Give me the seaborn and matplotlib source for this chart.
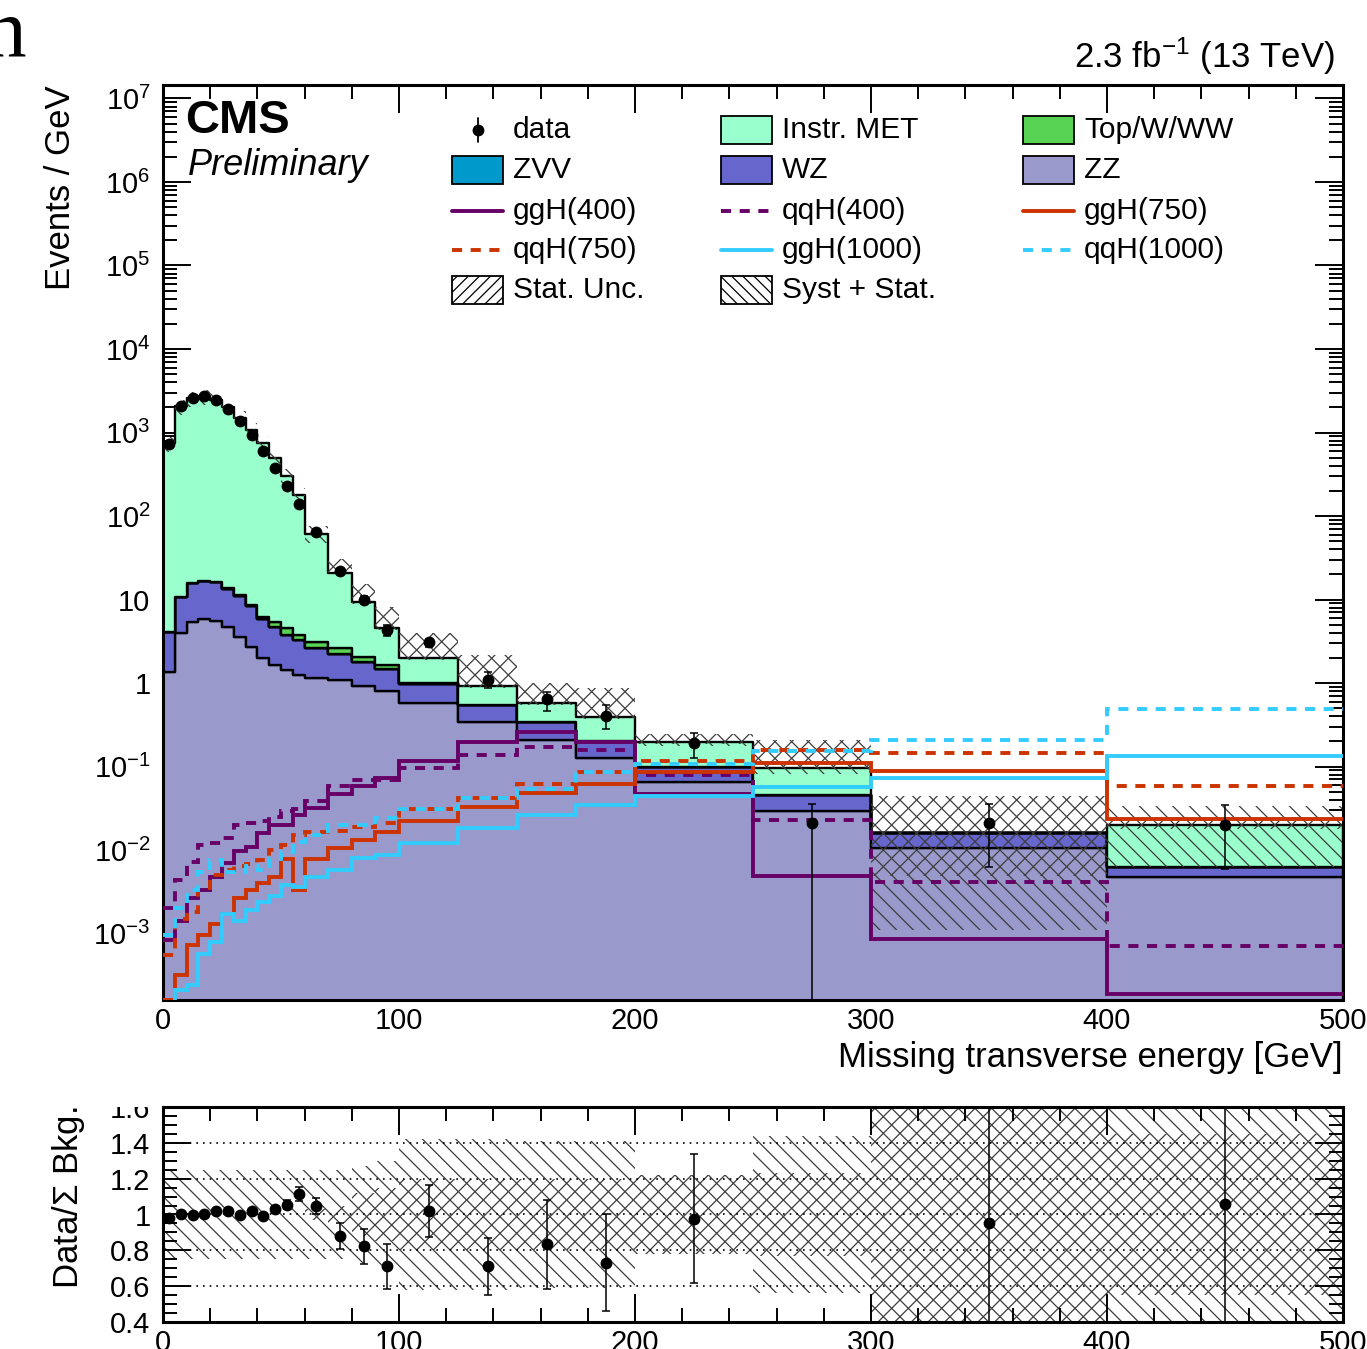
import matplotlib
matplotlib.use("Agg")
import matplotlib.pyplot as plt
import matplotlib.ticker as mticker
from matplotlib.patches import Rectangle
from matplotlib.lines import Line2D
from matplotlib.transforms import Bbox, TransformedBbox
import numpy as np
import pandas as pd
import seaborn as sns

# binning (GeV)
bin_edges = [0, 5, 10, 15, 20, 25, 30, 35, 40, 45, 50, 55, 60, 70, 80, 90,
             100, 125, 150, 175, 200, 250, 300, 400, 500]

# backgrounds, events / GeV
zz = [1.36, 4.0, 5.4, 5.9, 5.5, 4.7, 3.6, 2.7, 2.0, 1.63, 1.42, 1.24, 1.16,
      1.08, 0.92, 0.80, 0.57, 0.34, 0.21, 0.125, 0.065, 0.029, 0.0107, 0.0047]
wz = [2.7, 6.8, 10.2, 10.7, 10.5, 8.6, 7.5, 5.7, 3.9, 3.07, 2.38, 2.06, 1.49,
      1.17, 0.88, 0.67, 0.41, 0.21, 0.13, 0.075, 0.033, 0.016, 0.0052, 0.0016]
zvv = [0, 0, 0, 0, 0, 0, 0, 0, 0, 0, 0, 0, 0,
       0, 0, 0, 0, 0, 0, 0, 0, 0, 0, 0]
top_w_ww = [0, 0, 0, 0.1, 0.2, 0.4, 0.3, 0.3, 0.35, 0.75, 0.7, 0.5, 0.45,
            0.35, 0.27, 0.17, 0.02, 0, 0, 0, 0, 0, 0, 0]
instr_met = [736, 2039, 2544, 2683, 2464, 1986, 1489, 1071, 744, 494, 296, 176, 57,
             18.4, 7.3, 2.86, 1.0, 0.38, 0.23, 0.19, 0.096, 0.050, 0, 0.0137]

# relative uncertainty band on the background sum (main panel)
syst_up = [0.2, 0.2, 0.2, 0.2, 0.2, 0.2, 0.2, 0.2, 0.2, 0.2, 0.2, 0.2, 0.25,
           0.45, 0.65, 0.8, 1.0, 1.3, 0.75, 1.25, 0.25, 1.17, 1.77, 0.7]
syst_dn = [0.2, 0.2, 0.2, 0.2, 0.2, 0.2, 0.2, 0.2, 0.2, 0.2, 0.2, 0.2, 0.2,
           0.05, 0.05, 0.05, 0.05, 0.05, 0.05, 0.05, 0.1, 0.15, 0.93, 0.69]
stat_up = [0.03, 0.03, 0.03, 0.03, 0.03, 0.03, 0.03, 0.03, 0.03, 0.03, 0.03, 0.03, 0.05,
           0.45, 0.65, 0.8, 1.0, 1.3, 0.75, 1.25, 0.25, 1.17, 1.77, 0.1]
stat_dn = [0.03, 0.03, 0.03, 0.03, 0.03, 0.03, 0.03, 0.03, 0.03, 0.03, 0.03, 0.03, 0.05,
           0.03, 0.03, 0.03, 0.03, 0.03, 0.03, 0.03, 0.05, 0.0, 0.69, 0.1]

# signals, events / GeV
ggh400 = [0.00083, 0.0014, 0.0027, 0.0033, 0.0048, 0.0069, 0.0097, 0.011, 0.016, 0.020,
          0.020, 0.026, 0.032, 0.047, 0.059, 0.073, 0.116, 0.194, 0.26, 0.194,
          0.0475, 0.0049, 0.00085, 0.00019]
qqh400 = [0.0020, 0.0044, 0.0071, 0.0115, 0.0123, 0.0138, 0.020, 0.021, 0.022, 0.025,
          0.029, 0.031, 0.039, 0.058, 0.069, 0.069, 0.095, 0.139, 0.172, 0.158,
          0.080, 0.023, 0.0041, 0.00071]
ggh750 = [0.00016, 0.00032, 0.00072, 0.00095, 0.0013, 0.0017, 0.0027, 0.0033, 0.0040, 0.0048,
          0.0079, 0.0033, 0.0079, 0.0107, 0.0132, 0.0166, 0.022, 0.033, 0.048, 0.061,
          0.087, 0.109, 0.0895, 0.0234]
qqh750 = [0.00055, 0.0015, 0.0018, 0.0035, 0.0050, 0.0057, 0.0065, 0.0068, 0.0076, 0.0100,
          0.0115, 0.0150, 0.0166, 0.0170, 0.019, 0.021, 0.031, 0.042, 0.061, 0.085,
          0.116, 0.158, 0.146, 0.058]
ggh1000 = [0.00015, 0.00021, 0.00024, 0.00057, 0.0008, 0.0017, 0.0014, 0.0019, 0.0024, 0.0028,
           0.0038, 0.0036, 0.0047, 0.0058, 0.0081, 0.0087, 0.0123, 0.0185, 0.026, 0.035,
           0.044, 0.057, 0.072, 0.135]
qqh1000 = [0.00095, 0.0020, 0.0033, 0.0055, 0.0076, 0.0054, 0.0055, 0.0065, 0.0057, 0.0079,
           0.0096, 0.0126, 0.015, 0.020, 0.020, 0.024, 0.031, 0.042, 0.054, 0.085,
           0.107, 0.155, 0.21, 0.49]

# data, events / GeV
data_y = [720, 2050, 2600, 2700, 2430, 1900, 1370, 940, 600, 380, 230, 141, 65,
          22, 10, 4.35, 3.06, 1.1, 0.64, 0.40, 0.19, 0.021, 0.021, 0.020]
data_err_hi = [12, 20, 23, 23, 22, 19, 17, 14, 11, 9, 7, 5, 2.5,
               1.5, 1.0, 0.66, 0.35, 0.24, 0.15, 0.15, 0.065, 0.015, 0.015, 0.015]
data_err_lo = [12, 20, 23, 23, 22, 19, 17, 14, 11, 9, 7, 5, 2.5,
               1.5, 1.0, 0.66, 0.35, 0.24, 0.18, 0.115, 0.065, 0.0209, 0.0147, 0.014]

# ratio panel
ratio = [0.978, 1.005, 0.996, 1.0, 1.017, 1.02, 0.996, 1.02, 0.99, 1.03, 1.054, 1.115, 1.047,
         0.88, 0.823, 0.71, 1.02, 0.71, 0.833, 0.73, 0.976, np.nan, 0.95, 1.06]
ratio_err = [0.015, 0.01, 0.01, 0.01, 0.01, 0.01, 0.012, 0.013, 0.015, 0.02, 0.025, 0.038, 0.045,
             0.07, 0.097, 0.125, 0.147, 0.16, 0.25, 0.27, 0.36, np.nan, 1.0, 1.0]
ratio_syst = [0.25, 0.25, 0.25, 0.25, 0.25, 0.25, 0.25, 0.25, 0.25, 0.25, 0.25, 0.25, 0.25,
              0.25, 0.27, 0.30, 0.42, 0.42, 0.41, 0.41, 0.22, 0.44, 1.0, 1.0]
ratio_stat = [0.0, 0.0, 0.0, 0.0, 0.0, 0.0, 0.0, 0.0, 0.0, 0.0, 0.0, 0.0, 0.03,
              0.05, 0.12, 0.15, 0.2, 0.2, 0.2, 0.2, 0.22, 0.23, 1.0, 0.45]

y_ticks = [1e-3, 1e-2, 1e-1, 1, 10, 1e2, 1e3, 1e4, 1e5, 1e6, 1e7]
y_tick_labels = [r"$10^{-3}$", r"$10^{-2}$", r"$10^{-1}$", "1", "10", r"$10^{2}$",
                 r"$10^{3}$", r"$10^{4}$", r"$10^{5}$", r"$10^{6}$", r"$10^{7}$"]
r_ticks = [0.4, 0.6, 0.8, 1.0, 1.2, 1.4, 1.6]
r_tick_labels = ["0.4", "0.6", "0.8", "1", "1.2", "1.4", "1.6"]

COLORS = {
    "Instr. MET": "#99ffcc",
    "Top/W/WW": "#59d354",
    "ZVV": "#0099cc",
    "WZ": "#6666cc",
    "ZZ": "#9999cc",
}
PURPLE, RED, CYAN = "#660066", "#cc3300", "#33ccff"

sns.set_theme(style="ticks", rc={"axes.edgecolor": "black", "text.color": "black",
                                 "xtick.color": "black", "ytick.color": "black",
                                 "axes.labelcolor": "black"})
plt.rcParams["font.family"] = ["Liberation Sans", "DejaVu Sans"]
plt.rcParams["mathtext.fontset"] = "custom"
plt.rcParams["mathtext.rm"] = "Liberation Sans"
plt.rcParams["mathtext.it"] = "Liberation Sans:italic"
plt.rcParams["mathtext.bf"] = "Liberation Sans:bold"
plt.rcParams["hatch.linewidth"] = 0.9

W, H = 1367, 1349
edges = np.array(bin_edges, dtype=float)
centers = 0.5 * (edges[1:] + edges[:-1])


def ext(v):
    v = np.asarray(v, dtype=float)
    return np.append(v, v[-1])


fig = plt.figure(figsize=(W / 100, H / 100), dpi=100)
ax = fig.add_axes([163 / W, 1 - 1000 / H, 1180 / W, 915 / H])
ax2 = fig.add_axes([163 / W, 1 - 1322 / H, 1180 / W, 215 / H])

# ---- stacked backgrounds
stack_order = ["Instr. MET", "Top/W/WW", "ZVV", "WZ", "ZZ"]  # seaborn puts the last level at the bottom
stack_vals = {"Instr. MET": instr_met, "Top/W/WW": top_w_ww, "ZVV": zvv, "WZ": wz, "ZZ": zz}
df = pd.DataFrame([
    {"met": c, "value": v, "process": name}
    for name in stack_order for c, v in zip(centers, stack_vals[name])
])
sns.histplot(data=df, x="met", weights="value", hue="process", hue_order=stack_order,
             multiple="stack", bins=bin_edges, element="step", palette=COLORS,
             edgecolor="black", linewidth=1.7, alpha=1, legend=False, ax=ax, zorder=1)
ax.set_yscale("log")

total = np.sum([np.asarray(stack_vals[k]) for k in stack_order], axis=0)

# ---- uncertainty bands
ax.fill_between(edges, ext(total * (1 - np.asarray(syst_dn))), ext(total * (1 + np.asarray(syst_up))),
                step="post", facecolor="none", edgecolor="#3c3c3c", hatch="\\\\", linewidth=0, zorder=2)
ax.fill_between(edges, ext(total * (1 - np.asarray(stat_dn))), ext(total * (1 + np.asarray(stat_up))),
                step="post", facecolor="none", edgecolor="#3c3c3c", hatch="//", linewidth=0, zorder=2)

# ---- signals
dash = (0, (2.6, 2.2))
for vals, col, ls in [(ggh400, PURPLE, "-"), (qqh400, PURPLE, dash),
                      (ggh750, RED, "-"), (qqh750, RED, dash),
                      (ggh1000, CYAN, "-"), (qqh1000, CYAN, dash)]:
    ax.stairs(vals, edges, baseline=None, color=col, linewidth=2.8, linestyle=ls, zorder=3)

# ---- data
ax.errorbar(centers, data_y, yerr=[data_err_lo, data_err_hi], fmt="o", color="black",
            markersize=7.5, elinewidth=1.1, capsize=2.6, capthick=1.1, zorder=5)

ax.set_xlim(0, 500)
ax.set_ylim(1.6e-4, 1.45e7)
ax.yaxis.set_major_locator(mticker.FixedLocator(y_ticks))
ax.yaxis.set_major_formatter(mticker.FixedFormatter(y_tick_labels))
ax.yaxis.set_minor_locator(mticker.LogLocator(base=10, subs=np.arange(2, 10), numticks=30))
ax.yaxis.set_minor_formatter(mticker.NullFormatter())
ax.xaxis.set_major_locator(mticker.MultipleLocator(100))
ax.xaxis.set_minor_locator(mticker.MultipleLocator(20))

for a in (ax, ax2):
    a.tick_params(which="both", direction="in", top=True, right=True, width=1.4,
                  labelsize=21)
    a.tick_params(which="major", length=20)
    a.tick_params(which="minor", length=10)
    a.tick_params(axis="y", pad=9)
    a.tick_params(axis="x", pad=5)
    for s in a.spines.values():
        s.set_linewidth(2.2)

ax.set_xlabel("Missing transverse energy [GeV]", fontsize=25, loc="right")
ax.xaxis.set_label_coords(1.0, -0.045)
ax.set_ylabel("Events / GeV", fontsize=25, loc="top")
ax.yaxis.set_label_coords(-0.073, 1.0)

# ---- ratio panel
ax2.fill_between(edges, ext(1 - np.asarray(ratio_syst)), ext(1 + np.asarray(ratio_syst)),
                 step="post", facecolor="none", edgecolor="#3c3c3c", hatch="\\\\", linewidth=0, zorder=1)
ax2.fill_between(edges, ext(1 - np.asarray(ratio_stat)), ext(1 + np.asarray(ratio_stat)),
                 step="post", facecolor="none", edgecolor="#3c3c3c", hatch="//", linewidth=0, zorder=1)
ax2.errorbar(centers, ratio, yerr=ratio_err, fmt="o", color="black", markersize=7.5,
             elinewidth=1.1, capsize=2.6, capthick=1.1, zorder=5)
ax2.set_xlim(0, 500)
ax2.set_ylim(0.4, 1.6)
ax2.yaxis.set_major_locator(mticker.FixedLocator(r_ticks))
ax2.yaxis.set_major_formatter(mticker.FixedFormatter(r_tick_labels))
ax2.yaxis.set_minor_locator(mticker.MultipleLocator(0.05))
ax2.xaxis.set_major_locator(mticker.MultipleLocator(100))
ax2.xaxis.set_minor_locator(mticker.MultipleLocator(20))
ax2.yaxis.grid(True, which="major", linestyle=(0, (1, 3)), color="black", linewidth=1.2)
ax2.set_axisbelow(False)
ax2.set_ylabel(r"Data/$\Sigma$ Bkg.", fontsize=25, loc="top")
ax2.yaxis.set_label_coords(-0.064, 1.0)

# ---- texts
ax.text(0.0186, 0.9475, "CMS", transform=ax.transAxes, fontsize=34, fontweight="bold",
        ha="left", va="baseline")
ax.text(0.021, 0.9016, "Preliminary", transform=ax.transAxes, fontsize=26, style="italic",
        ha="left", va="baseline")
fig.text(1335 / W, 1 - 68 / H, r"2.3 fb$^{-1}$ (13 TeV)", fontsize=25, ha="right", va="baseline")
fig.text(-16 / W, 1 - 55 / H, "n", fontsize=60, family=["Liberation Serif"], ha="left", va="baseline")

# ---- legend (manual, ROOT-like grid)
def P(x, y):
    return x / W, 1 - y / H

col_x = [452, 721, 1023]
row_y = [130, 170, 211, 250, 290]
entries = [
    ("data", "data", None), ("Instr. MET", "box", COLORS["Instr. MET"]), ("Top/W/WW", "box", COLORS["Top/W/WW"]),
    ("ZVV", "box", COLORS["ZVV"]), ("WZ", "box", COLORS["WZ"]), ("ZZ", "box", COLORS["ZZ"]),
    ("ggH(400)", "line", (PURPLE, "-")), ("qqH(400)", "line", (PURPLE, dash)), ("ggH(750)", "line", (RED, "-")),
    ("qqH(750)", "line", (RED, dash)), ("ggH(1000)", "line", (CYAN, "-")), ("qqH(1000)", "line", (CYAN, dash)),
    ("Stat. Unc.", "hatch", "///"), ("Syst + Stat.", "hatch", "\\\\\\"),
]
sw, sh = 51, 27
for i, (label, kind, spec) in enumerate(entries):
    cx, cy = col_x[i % 3], row_y[i // 3]
    if kind == "box" or kind == "hatch":
        x0, y0 = P(cx, cy + sh / 2)
        rect = Rectangle((x0, y0), sw / W, sh / H, transform=fig.transFigure,
                         facecolor=spec if kind == "box" else "white", edgecolor="black",
                         linewidth=1.3, hatch=spec if kind == "hatch" else None)
        fig.add_artist(rect)
    elif kind == "line":
        col, ls = spec
        xa, ya = P(cx, cy)
        xb, _ = P(cx + sw, cy)
        fig.add_artist(Line2D([xa, xb], [ya, ya], transform=fig.transFigure, color=col,
                              linewidth=2.8, linestyle=ls))
    else:
        xm, ym = P(cx + 26, cy)
        _, yt = P(cx, cy - 12)
        _, yb = P(cx, cy + 12)
        fig.add_artist(Line2D([xm, xm], [yb, yt], transform=fig.transFigure, color="black", linewidth=1.3))
        fig.add_artist(Line2D([xm], [ym], transform=fig.transFigure, color="black",
                              marker="o", markersize=7.5, linestyle="none"))
    tx, ty = P(cx + 61, cy)
    fig.text(tx, ty, label, fontsize=21.5, ha="left", va="center")

# clip the top ratio label at the pad border, as in the original
fig.canvas.draw()
clip = TransformedBbox(Bbox([[0, 0], [1, 1 - 1107 / H]]), fig.transFigure)
for lab in ax2.get_yticklabels():
    if lab.get_text() == "1.6":
        lab.set_clip_box(clip)
        lab.set_clip_on(True)

fig.savefig("out.png", dpi=100)
